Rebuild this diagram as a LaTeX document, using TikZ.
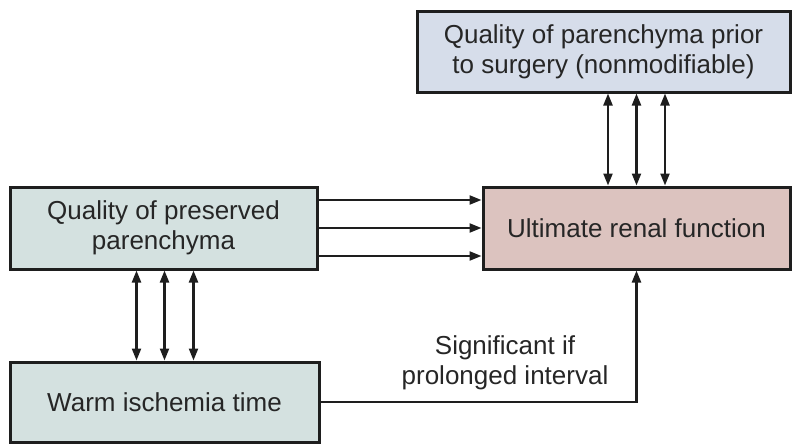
\documentclass[tikz,border=0pt]{standalone}
\usepackage{fontspec}
\setmainfont{Liberation Sans}
\usetikzlibrary{arrows.meta}
\definecolor{topfill}{HTML}{D6DDEA}
\definecolor{leftfill}{HTML}{D4E1E0}
\definecolor{ultfill}{HTML}{DCC3BF}
\definecolor{edge}{HTML}{1E1E1E}
\definecolor{txt}{HTML}{262626}
\begin{document}
\begin{tikzpicture}[x=1pt,y=-1pt,
  box/.style={draw=edge, line width=3pt, align=center, text=txt,
    font=\fontsize{26}{30}\selectfont, inner sep=0pt},
  conn/.style={draw=edge, line width=2.2pt},
  tip/.style={-{Triangle[length=12pt,width=9pt]}},
  dtip/.style={{Triangle[length=12pt,width=9pt]}-{Triangle[length=12pt,width=9pt]}}]
\useasboundingbox (0,0) rectangle (797,444);
\node[box, fill=topfill, minimum width=373pt, minimum height=80pt] (top) at (603.5,52) {Quality of parenchyma prior\\to surgery (nonmodifiable)};
\node[box, fill=ultfill, minimum width=307pt, minimum height=82pt] (ult) at (636.5,228) {Ultimate renal function};
\node[box, fill=leftfill, minimum width=307pt, minimum height=82pt] (left) at (163.5,228) {Quality of preserved\\parenchyma};
\node[box, fill=leftfill, minimum width=309pt, minimum height=80pt] (bot) at (164.5,402) {Warm ischemia time};
\node[align=center, text=txt, font=\fontsize{26}{30}\selectfont, inner sep=0pt] (lab) at (505,363) {Significant if\\prolonged interval};
% top arrows
\foreach \dx in {-28.5,0,28.5}
  \draw[conn, dtip] ([xshift=\dx pt]top.south -| ult.north) -- ([xshift=\dx pt]ult.north);
% left vertical arrows
\foreach \dx in {-28,0,29}
  \draw[conn, dtip] ([xshift=\dx pt]bot.north |- left.south) -- ([xshift=\dx pt]bot.north);
% horizontal arrows
\foreach \dy in {-28,0,28}
  \draw[conn, tip] ([yshift=\dy pt]left.east) -- ([yshift=\dy pt]ult.west);
% bottom connector
\draw[conn, tip] (bot.east) -| (ult.south);
\end{tikzpicture}
\end{document}
